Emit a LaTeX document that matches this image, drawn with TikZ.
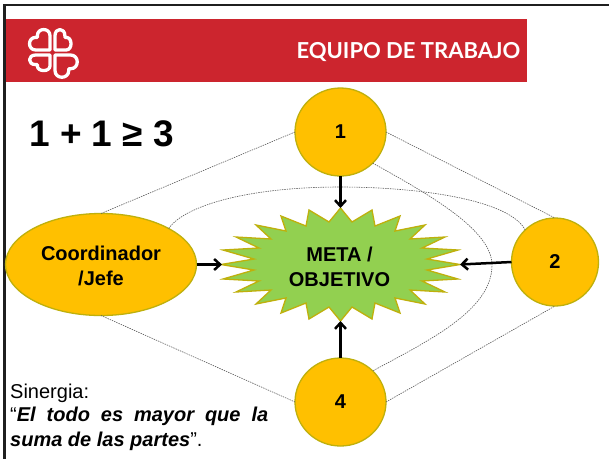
\documentclass[tikz,border=0pt]{standalone}
\usepackage{fontspec}
\setmainfont{Liberation Sans}
\newfontfamily\titlefont{Lato}
\usetikzlibrary{arrows.meta,shapes.geometric}
\definecolor{bandred}{HTML}{CC252E}
\definecolor{nodeorange}{HTML}{FFC000}
\definecolor{nodeedge}{HTML}{BFB00C}
\definecolor{stargreen}{HTML}{92D050}
\tikzset{
  x=1pt,y=-1pt,
  member/.style={ellipse,draw=nodeedge,fill=nodeorange,line width=1.3pt,inner sep=0pt,outer sep=0pt,align=center,font=\fontsize{20}{25}\selectfont\bfseries},
  link/.style={line width=.6pt,draw=black!65,dash pattern=on 1.4pt off 1pt},
  flow/.style={line width=2.5pt,draw=black,-{Straight Barb[length=6pt,width=11pt]}},
  logoline/.style={draw=white,line width=3.3pt,line join=round}
}
\newcommand{\heartmark}[4]{%
  \draw[logoline,shift={(#1,#2)},xscale=#3,yscale=#4]
    (0,0) -- (0,.62) .. controls (0,.98) and (.55,.98) .. (.55,.62) -- (.55,.55)
    -- (.62,.55) .. controls (.98,.55) and (.98,0) .. (.62,0) -- cycle;
}
\begin{document}
\begin{tikzpicture}
\useasboundingbox (0,0) rectangle (609,459);
\fill[white] (0,0) rectangle (609,459);
\fill[bandred] (4,19) rectangle (527,82);
% frame
\draw[line width=2.6pt,draw=black!88] (609,5) -- (4.5,5) -- (4.5,459);
% logo
\heartmark{50}{50}{-23}{-23}
\heartmark{55}{50}{18}{-23}
\heartmark{50}{55}{-23}{17.5}
\heartmark{55}{55}{25}{25}
% star
\draw[fill=stargreen,draw=nodeedge,line width=1.3pt,line join=miter]
 (340.5,208)--(352,222)--(372,210)--(375,226)--(400,216)--(395,231)--(425,225)--(410,239)--(445,237)--(422,248)--(458,250)--(427,259)--(460,264.5)--(427,270)--(458,279)--(422,281)--(445,292)--(410,290)--(425,304)--(395,298)--(400,313)--(375,303)--(372,319)--(352,307)--(340.5,321)--(329,307)--(309,319)--(306,303)--(281,313)--(286,298)--(256,304)--(271,290)--(236,292)--(259,281)--(223,279)--(254,270)--(221,264.5)--(254,259)--(223,250)--(259,248)--(236,237)--(271,239)--(256,225)--(286,231)--(281,216)--(306,226)--(309,210)--(329,222)--cycle;
\coordinate (startop) at (340.5,208);
\coordinate (starbottom) at (340.5,321);
\coordinate (starleft) at (222,264.5);
\coordinate (starright) at (460,264.5);
\node[align=center,font=\fontsize{20}{25}\selectfont\bfseries] (goal) at (339.5,267) {META /\\OBJETIVO};
% members
\node[member,minimum width=91pt,minimum height=88pt] (one) at (340.5,132) {1};
\node[member,minimum width=87pt,minimum height=88pt] (two) at (555,262) {2};
\node[member,minimum width=91pt,minimum height=88pt] (four) at (340.5,402) {4};
\node[member,minimum width=191pt,minimum height=102pt] (boss) at (101,264.5) {\raisebox{-9pt}[0pt][0pt]{\begin{tabular}{@{}c@{}}Coordinador\\/Jefe\end{tabular}}};
% links
\draw[link] (one.west) -- (boss.north);
\draw[link] (one.east) -- (two.north);
\draw[link] (boss.south) -- (four.west);
\draw[link] (four.east) -- (two.south);
\draw[link] (boss.28.6) .. controls (185,205) and (250,187) .. (340,187) .. controls (420,187) and (510,200) .. (two.133);
\draw[link] (one.-44) .. controls (430,195) and (492,230) .. (492,265) .. controls (492,310) and (430,340) .. (four.44);
% flows
\draw[flow] (one.south) -- (startop);
\draw[flow] (boss.east) -- (starleft);
\draw[flow] (two.west) -- (starright);
\draw[flow] (four.north) -- (starbottom);
% texts
\node[anchor=base east,text=white,inner sep=0pt,font=\titlefont\fontsize{22}{26}\selectfont\bfseries] (title) at (520.5,58) {EQUIPO DE TRABAJO};
\node[anchor=base west,inner sep=0pt,font=\fontsize{37}{42}\selectfont\bfseries] (sum) at (29,146) {1 + 1 ≥ 3};
\node[anchor=base west,inner sep=0pt,font=\fontsize{20}{24}\selectfont] (syn) at (10,398) {Sinergia:};
\node[anchor=north west,inner sep=0pt,text width=258pt,align=justify,font=\fontsize{20}{24.3}\selectfont] (quote) at (10,407) {“\textbf{\textit{El todo es mayor que la\linebreak suma de las partes}}”.};
\end{tikzpicture}
\end{document}
